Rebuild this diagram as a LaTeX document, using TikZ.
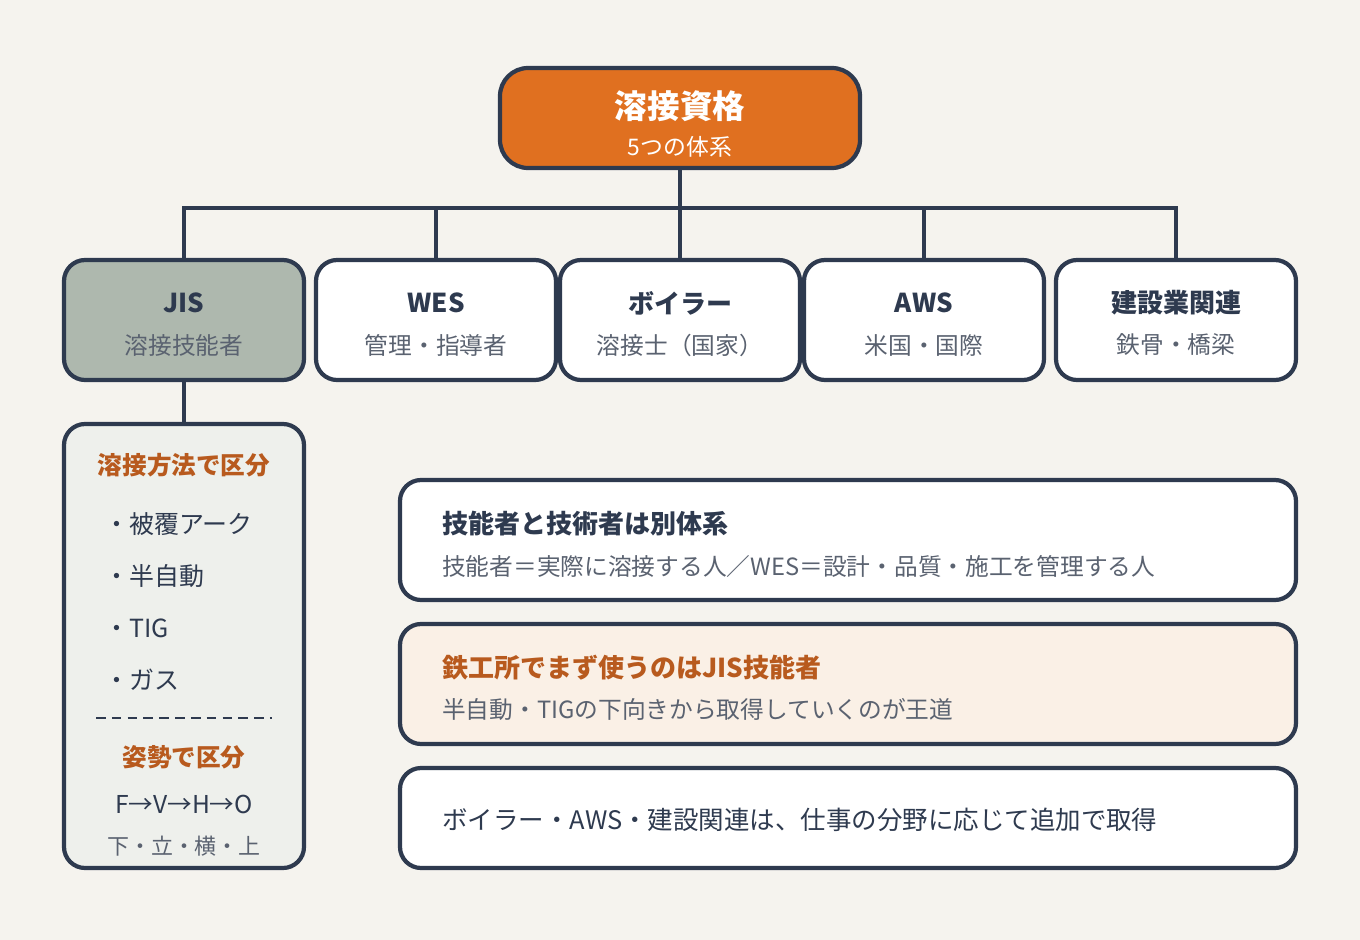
\documentclass[tikz,border=0pt]{standalone}
\usepackage{fontspec}
\setmainfont{Noto Sans CJK JP}
\definecolor{bg}{HTML}{F5F3EE}
\definecolor{dk}{HTML}{2E3A4F}
\definecolor{org}{HTML}{E07020}
\definecolor{brn}{HTML}{B85A1E}
\definecolor{jis}{HTML}{AEB8AE}
\definecolor{lft}{HTML}{EEF0EC}
\definecolor{cream}{HTML}{FAF0E6}
\definecolor{gr}{HTML}{5A6270}
\begin{document}
\begin{tikzpicture}[x=0.02cm,y=-0.02cm,
 box/.style={draw=dk,line width=2.4pt,rounded corners=12pt},
 ln/.style={draw=dk,line width=2.2pt},
 ttl/.style={font=\fontsize{14.8}{16}\selectfont\bfseries,text=dk},
 sub/.style={font=\fontsize{13.5}{15}\selectfont,text=gr},
 itm/.style={font=\fontsize{14.2}{16}\selectfont,text=dk,anchor=west}]
\fill[bg] (0,0) rectangle (1360,940);
% connectors
\draw[ln] (680,168) -- (680,260);
\draw[ln] (184,260) -- (184,208) -- (1176,208) -- (1176,260);
\draw[ln] (436,208) -- (436,260);
\draw[ln] (924,208) -- (924,260);
\draw[ln] (184,380) -- (184,424);
% top
\draw[box,fill=org,rounded corners=16pt] (500,68) rectangle (860,168);
\node[font=\fontsize{18.5}{20}\selectfont\bfseries,text=white] (top) at (680,106) {溶接資格};
\node[font=\fontsize{13}{14}\selectfont,text=white] (tops) at (680,147) {5つの体系};
% row
\foreach \x/\f/\t/\s [count=\i] in {64/jis/JIS/溶接技能者,316/white/WES/管理・指導者,560/white/ボイラー/溶接士（国家）,804/white/AWS/米国・国際,1056/white/建設業関連/鉄骨・橋梁}{
 \draw[box,fill=\f] (\x,260) rectangle ++(240,120);
 \node[ttl] (r\i) at (\x+120,303) {\t};
 \node[sub] (s\i) at (\x+120,345) {\s};
}
% left box
\draw[box,fill=lft] (64,424) rectangle (304,868);
\node[ttl,text=brn,font=\fontsize{14}{16}\selectfont\bfseries] (m1) at (184,465) {溶接方法で区分};
\node[itm] (i1) at (98,524) {・被覆アーク};
\node[itm] (i2) at (98,576) {・半自動};
\node[itm] (i3) at (98,628) {・TIG};
\node[itm] (i4) at (98,680) {・ガス};
\draw[dk,line width=1.6pt,dash pattern=on 5.5pt off 3.5pt] (96,718) -- (272,718);
\node[ttl,text=brn,font=\fontsize{14}{16}\selectfont\bfseries] (m2) at (184,757) {姿勢で区分};
\node[font=\fontsize{14}{15}\selectfont,text=dk] (p1) at (184,804) {F→V→H→O};
\node[sub,font=\fontsize{12.5}{14}\selectfont] (p2) at (184,846) {下・立・横・上};
% right boxes
\draw[box,fill=white] (400,480) rectangle (1296,600);
\node[ttl,anchor=west] (a1) at (436,524) {技能者と技術者は別体系};
\node[sub,anchor=west] (a2) at (436,566) {技能者＝実際に溶接する人／WES＝設計・品質・施工を管理する人};
\draw[box,fill=cream] (400,624) rectangle (1296,744);
\node[ttl,anchor=west,text=brn] (b1) at (436,668) {鉄工所でまず使うのはJIS技能者};
\node[sub,anchor=west] (b2) at (436,709) {半自動・TIGの下向きから取得していくのが王道};
\draw[box,fill=white] (400,768) rectangle (1296,868);
\node[itm,font=\fontsize{14.5}{16}\selectfont] (c1) at (436,820) {ボイラー・AWS・建設関連は、仕事の分野に応じて追加で取得};
\end{tikzpicture}
\end{document}
